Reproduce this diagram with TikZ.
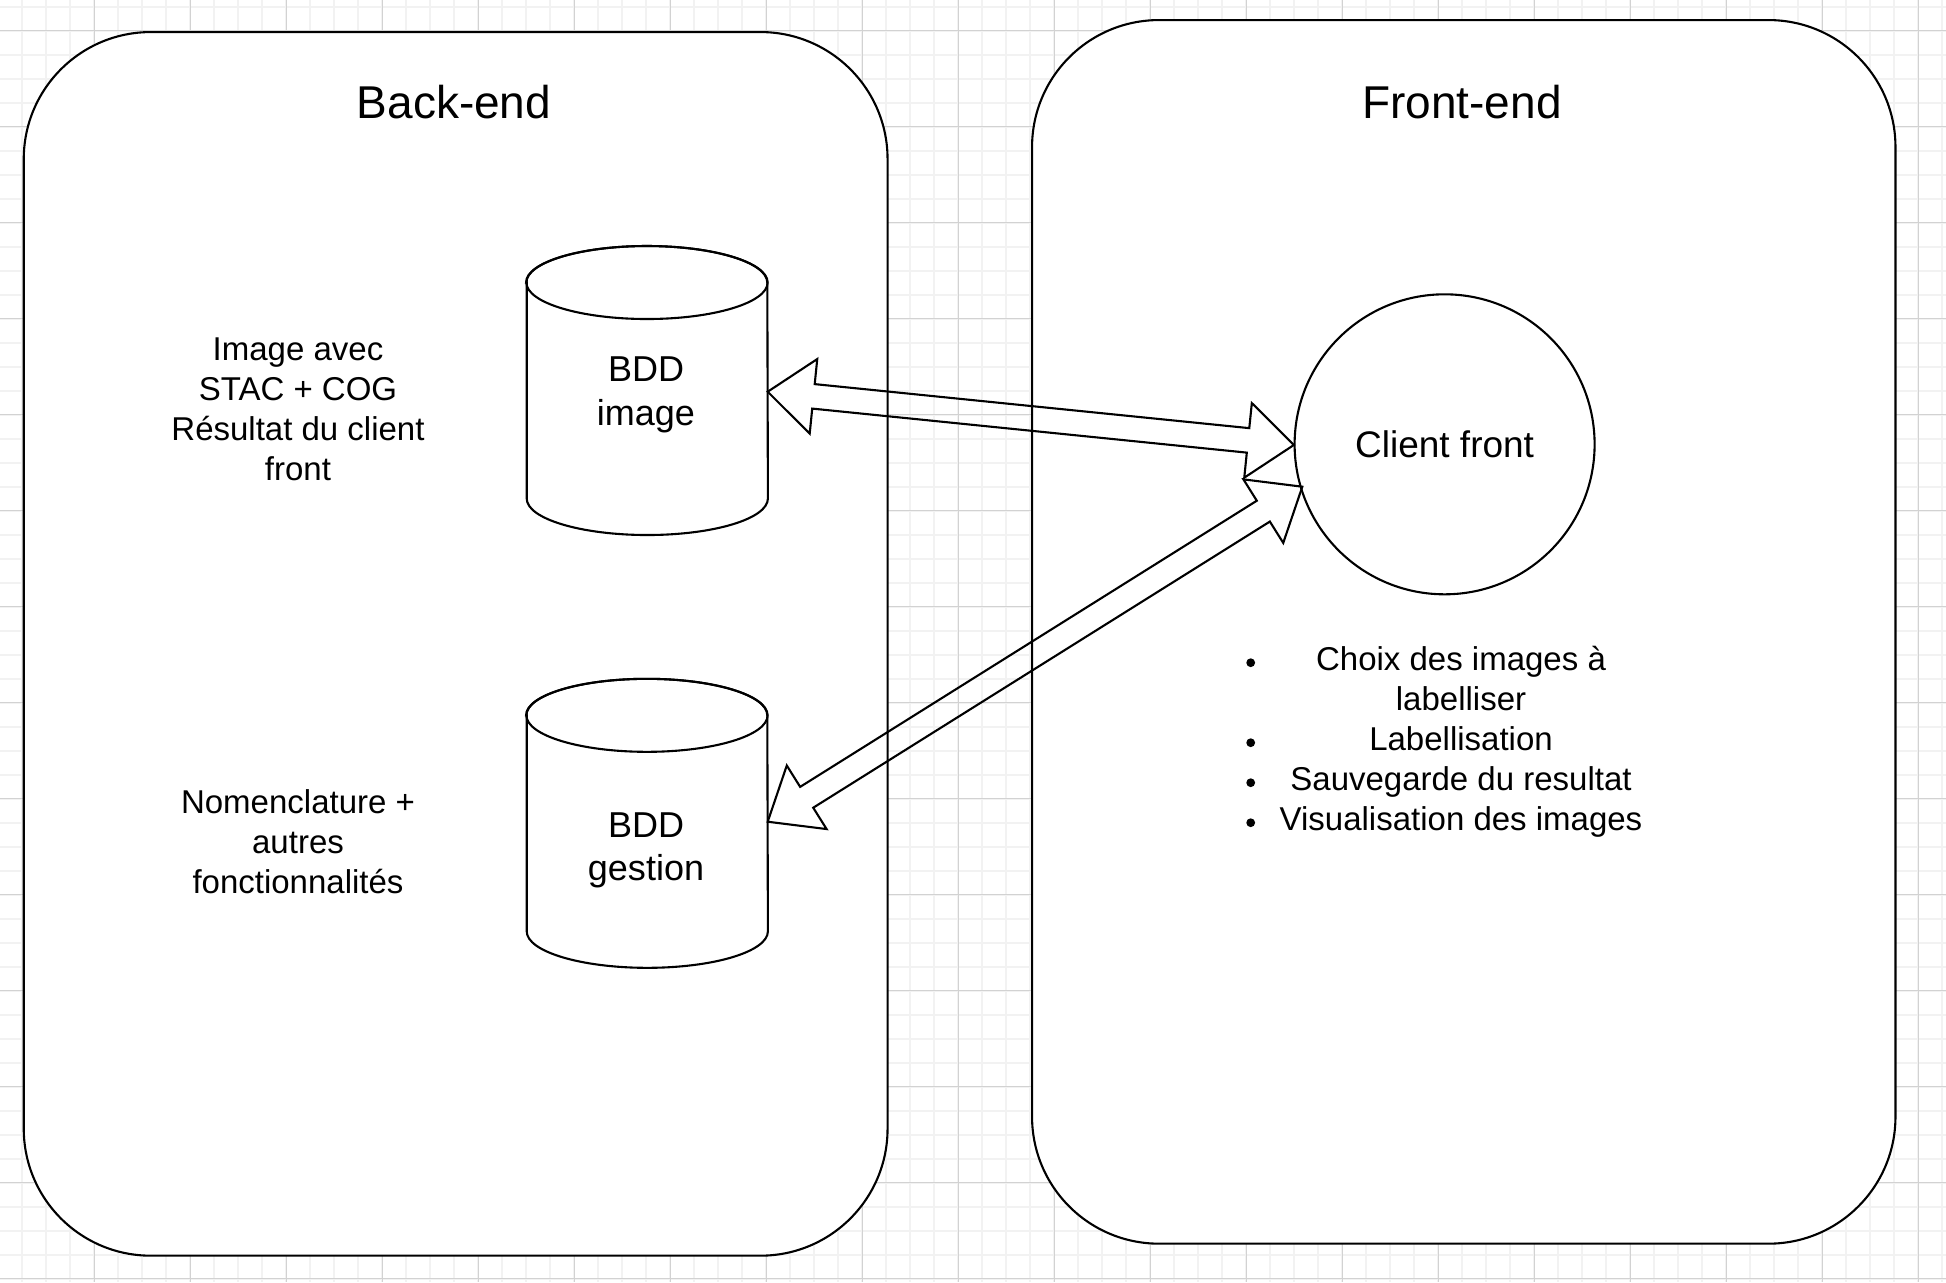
\documentclass[tikz,border=0pt]{standalone}
\usepackage{fontspec}
\setmainfont{Liberation Sans}
\usetikzlibrary{calc}
\definecolor{gridminor}{RGB}{242,242,242}
\definecolor{gridmajor}{RGB}{210,210,210}
\newcommand\mlines[1]{\begin{tabular}[t]{@{}c@{}}#1\end{tabular}}
\newcommand\arrHL{23pt}
\newcommand\arrHW{18.75pt}
\newcommand\arrBW{6.15pt}
\newcommand\flexarr[2]{%
  \coordinate (#1h) at ($(#1)!\arrHL!(#2)$);
  \coordinate (#2h) at ($(#2)!\arrHL!(#1)$);
  \draw[arrowline] (#1)
    -- ($(#1h)!\arrHW!90:(#2)$) -- ($(#1h)!\arrBW!90:(#2)$)
    -- ($(#2h)!\arrBW!-90:(#1)$) -- ($(#2h)!\arrHW!-90:(#1)$)
    -- (#2)
    -- ($(#2h)!\arrHW!90:(#1)$) -- ($(#2h)!\arrBW!90:(#1)$)
    -- ($(#1h)!\arrBW!-90:(#2)$) -- ($(#1h)!\arrHW!-90:(#2)$)
    -- cycle;}
\begin{document}
\begin{tikzpicture}[x=0.5pt,y=-0.5pt,
  stroke/.style={line width=1.05pt, draw=black},
  panel/.style={stroke, fill=white, rounded corners=63.5pt, anchor=north west, inner sep=0pt},
  title/.style={anchor=base, inner sep=0pt, font=\fontsize{23}{27}\selectfont},
  body/.style={anchor=base, inner sep=0pt, font=\fontsize{16.5}{20}\selectfont},
  dbtext/.style={anchor=base, inner sep=0pt, font=\fontsize{18}{21.75}\selectfont},
  dbnode/.style={inner sep=0pt, minimum width=120.3pt, minimum height=144.5pt},
  arrowline/.style={line width=1.05pt, line join=miter},
  bul/.style={circle, fill=black, inner sep=0pt, minimum size=4.4pt},
  minorline/.style={draw=gridminor, line width=1pt},
  majorline/.style={draw=gridmajor, line width=0.5pt}]
\fill[white] (0,0) rectangle (1946,1282);
\useasboundingbox (0,0) rectangle (1946,1282);
% grid
\foreach \i in {0,...,81} { \draw[minorline] ({-1.7+24*\i},0) -- ({-1.7+24*\i},1282); }
\foreach \j in {0,...,53} { \draw[minorline] (0,{6.5+24*\j}) -- (1946,{6.5+24*\j}); }
\foreach \i in {0,...,20} { \draw[majorline] ({-1.7+96*\i},0) -- ({-1.7+96*\i},1282); }
\foreach \j in {0,...,13} { \draw[majorline] (0,{30.5+96*\j}) -- (1946,{30.5+96*\j}); }
% panels
\node[panel, minimum width=431.9pt, minimum height=611.8pt] (backend) at (22.7,31) {};
\node[panel, minimum width=431.7pt, minimum height=611.8pt] (frontend) at (1031,19) {};
\node[title] (backtitle) at (454,118.3) {Back-end};
\node[title] (fronttitle) at (1462,118.3) {Front-end};
% cylinders
\node[dbnode] (bddimg) at (647,390.5) {};
\draw[stroke, fill=white] (526.7,282.5) -- (526.7,498.5)
  arc[start angle=180, end angle=360, x radius=60.3pt, y radius=18.25pt]
  -- (767.3,282.5)
  arc[start angle=0, end angle=180, x radius=60.3pt, y radius=18.25pt] -- cycle;
\draw[stroke] (647,282.5) ellipse[x radius=60.3pt, y radius=18.25pt];
\node[dbtext] (bddimgtext) at (646,381.7) {\mlines{BDD\\image}};
\node[dbnode] (bddges) at (647,823.3) {};
\draw[stroke, fill=white] (526.7,715.3) -- (526.7,931.3)
  arc[start angle=180, end angle=360, x radius=60.3pt, y radius=18.25pt]
  -- (767.3,715.3)
  arc[start angle=0, end angle=180, x radius=60.3pt, y radius=18.25pt] -- cycle;
\draw[stroke] (647,715.3) ellipse[x radius=60.3pt, y radius=18.25pt];
\node[dbtext] (bddgestext) at (646,837) {\mlines{BDD\\gestion}};
% side texts
\node[body] (imgdesc) at (298,360.7) {\mlines{Image avec\\STAC + COG\\Résultat du client\\front}};
\node[body] (gesdesc) at (298,813.5) {\mlines{Nomenclature +\\autres\\fonctionnalités}};
% client
\node[stroke, circle, fill=white, minimum size=150pt, inner sep=0pt,
      font=\fontsize{18.5}{22}\selectfont] (client) at (1444.6,444.3) {Client front};
% list
\node[body] (features) at (1461,670) {\mlines{Choix des images à\\labelliser\\Labellisation\\Sauvegarde du resultat\\Visualisation des images}};
\node[bul] (b1) at (1250.7,662.7) {};
\node[bul] (b2) at (1250.7,742.7) {};
\node[bul] (b3) at (1250.7,782.7) {};
\node[bul] (b4) at (1250.7,822.7) {};
% arrows
\coordinate (aone) at (767.7,391.7);
\coordinate (bone) at (1293.8,445);
\coordinate (atwo) at (1302.3,486.7);
\coordinate (btwo) at (767.7,821.7);
\flexarr{aone}{bone}
\flexarr{atwo}{btwo}
\end{tikzpicture}
\end{document}
